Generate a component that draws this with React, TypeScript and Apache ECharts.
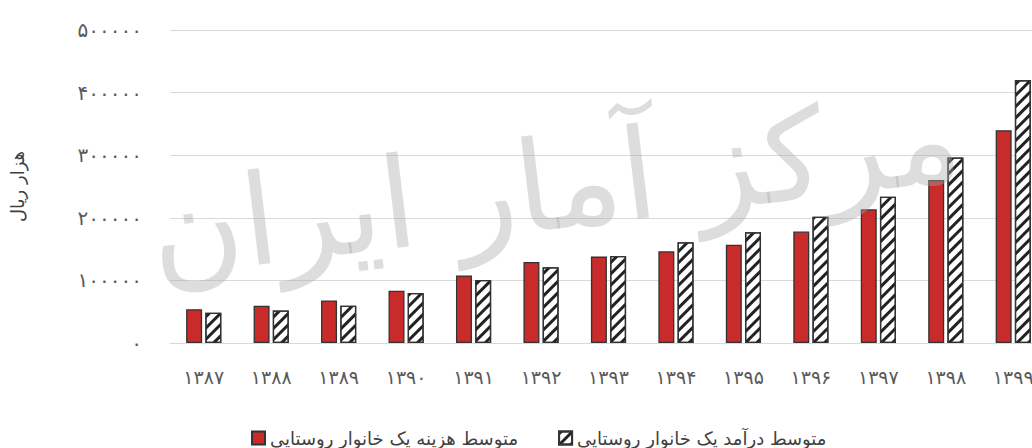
import React, { useEffect, useRef } from "react";
import * as echarts from "echarts";

const categories = ["۱۳۸۷", "۱۳۸۸", "۱۳۸۹", "۱۳۹۰", "۱۳۹۱", "۱۳۹۲", "۱۳۹۳", "۱۳۹۴", "۱۳۹۵", "۱۳۹۶", "۱۳۹۷", "۱۳۹۸", "۱۳۹۹"];
const expenseName = "متوسط هزینه یک خانوار روستایی";
const incomeName = "متوسط درآمد یک خانوار روستایی";
const expense = [54000, 59500, 68000, 83500, 108000, 129500, 138000, 146500, 157000, 178000, 213600, 260500, 340000];
const income = [48500, 52000, 59500, 80000, 100600, 121000, 139000, 161000, 177000, 201800, 233700, 296500, 420000];
const yAxisName = "هزار ریال";
const watermark = "مرکز آمار ایران";

const faDigits = "۰۱۲۳۴۵۶۷۸۹";
const toFa = (v: number | string) => String(v).replace(/[0-9]/g, (d) => faDigits[Number(d)]);

const FONT = '"DejaVu Sans", sans-serif';

export default function App() {
  const ref = useRef<HTMLDivElement>(null);
  useEffect(() => {
    if (!ref.current) return;
    const chart = echarts.init(ref.current, undefined, { renderer: "svg" });
    chart.setOption({
      animation: false,
      textStyle: { fontFamily: FONT },
      grid: { left: 168, top: 30, width: 879, height: 313, containLabel: false },
      legend: {
        data: [expenseName, incomeName],
        left: 246,
        top: 424,
        itemWidth: 13,
        itemHeight: 13,
        itemGap: 40,
        icon: "rect",
        textStyle: { fontSize: 18, lineHeight: 18, color: "#404040", fontFamily: FONT },
      },
      xAxis: {
        type: "category",
        data: categories,
        axisLine: { show: true, lineStyle: { color: "#d9d9d9", width: 1 } },
        axisTick: { show: false },
        axisLabel: { fontSize: 19, color: "#595959", margin: 24, fontFamily: FONT },
      },
      yAxis: {
        type: "value",
        min: 0,
        max: 500000,
        interval: 100000,
        name: yAxisName,
        nameLocation: "middle",
        nameGap: 144,
        nameTextStyle: { fontSize: 18, color: "#404040", fontFamily: FONT },
        axisLine: { show: false },
        axisTick: { show: false },
        splitLine: { lineStyle: { color: "#d9d9d9", width: 1 } },
        axisLabel: { fontSize: 20, color: "#595959", margin: 28, fontFamily: FONT, formatter: (v: number) => toFa(v) },
      },
      series: [
        {
          name: expenseName,
          type: "bar",
          data: expense,
          barWidth: 16,
          barGap: "20%",
          itemStyle: { color: "#C92A2A", borderColor: "#333333", borderWidth: 1.3 },
        },
        {
          name: incomeName,
          type: "bar",
          data: income,
          barWidth: 16,
          barGap: "20%",
          itemStyle: {
            color: "#ffffff",
            borderColor: "#333333",
            borderWidth: 1.3,
            decal: {
              symbol: "rect",
              symbolSize: 1,
              color: "#222222",
              dashArrayX: [1, 0],
              dashArrayY: [2.5, 4.5],
              rotation: -Math.PI / 4,
            },
          },
        },
      ],
      graphic: [
        {
          type: "text",
          x: 555,
          y: 185,
          rotation: 0.12,
          z: 100,
          silent: true,
          style: {
            text: watermark,
            fontSize: 126,
            fontFamily: FONT,
            fill: "rgba(170,170,170,0.4)",
            textAlign: "center",
            textVerticalAlign: "middle",
          },
        },
      ],
    });
    return () => chart.dispose();
  }, []);
  return (
    <div style={{ position: "fixed", left: 0, top: 0, width: 1032, height: 448, overflow: "hidden", background: "#fff" }}>
      <div ref={ref} style={{ width: 1100, height: 448 }} />
    </div>
  );
}
